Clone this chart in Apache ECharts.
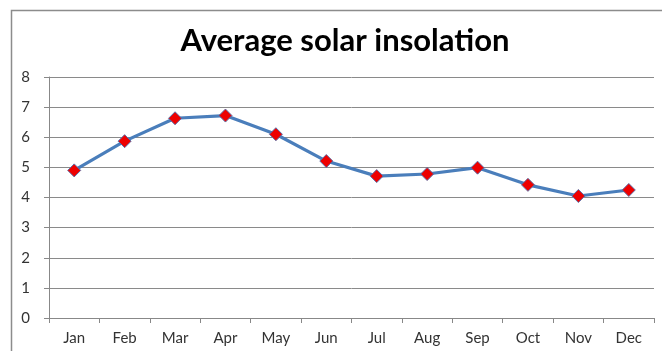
<!DOCTYPE html>
<html><head><meta charset="utf-8">
<script src="https://cdn.jsdelivr.net/npm/echarts@6/dist/echarts.min.js"></script>
<style>html,body{margin:0;padding:0;background:#fff}#c{width:662px;height:351px}</style>
</head><body><div id="c"></div>
<script>
const months = ['Jan','Feb','Mar','Apr','May','Jun','Jul','Aug','Sep','Oct','Nov','Dec'];
const insolation = [4.90, 5.87, 6.63, 6.72, 6.10, 5.21, 4.71, 4.78, 4.99, 4.42, 4.05, 4.25];
const yTicks = [0, 1, 2, 3, 4, 5, 6, 7, 8];
const titleText = 'Average solar insolation';

const chart = echarts.init(document.getElementById('c'));
chart.setOption({
  animation: false,
  backgroundColor: '#fff',
  graphic: [{
    type: 'rect', left: 9, top: 8, shape: { width: 700, height: 400 },
    style: { fill: 'none', stroke: '#8c8c8c', lineWidth: 1.5 }, silent: true, z: -1
  }],
  title: {
    text: titleText, left: 340, top: 20, textAlign: 'center',
    textStyle: { fontFamily: 'Lato', fontWeight: 'bold', fontSize: 31, color: '#000' }
  },
  grid: { left: 49, right: 8, top: 77, bottom: 33, containLabel: false },
  xAxis: {
    type: 'category', data: months, boundaryGap: true,
    axisLine: { show: true, lineStyle: { color: '#888', width: 1 } },
    axisTick: { show: true, length: 5, lineStyle: { color: '#888' } },
    axisLabel: { color: '#333', fontFamily: 'Lato', fontSize: 15, margin: 13 },
    splitLine: { show: false }
  },
  yAxis: {
    type: 'value', min: yTicks[0], max: yTicks[yTicks.length - 1], interval: 1,
    axisLine: { show: true, lineStyle: { color: '#888', width: 1 } },
    axisTick: { show: true, length: 5, lineStyle: { color: '#888' } },
    axisLabel: { color: '#333', fontFamily: 'Lato', fontSize: 15, margin: 19 },
    splitLine: { show: true, lineStyle: { color: '#8a8a8a', width: 1 } }
  },
  series: [{
    type: 'line', data: insolation,
    lineStyle: { color: '#4a7ebb', width: 3.2 },
    symbol: 'diamond', symbolSize: 13,
    itemStyle: { color: '#ee0000', borderColor: '#5a6fa8', borderWidth: 1 }
  }]
});
</script></body></html>
